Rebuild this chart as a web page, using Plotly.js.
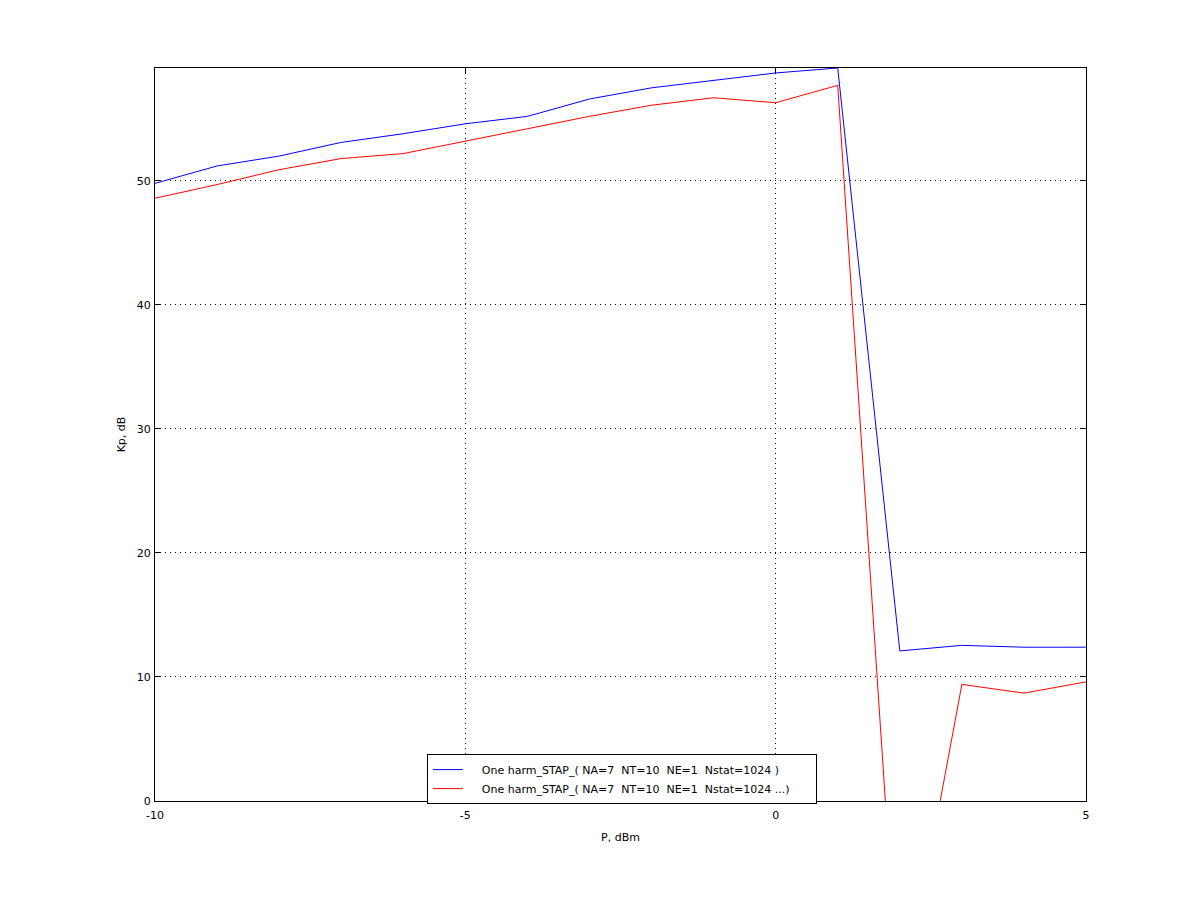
<!DOCTYPE html>
<html>
<head>
<meta charset="utf-8">
<script src="https://cdn.plot.ly/plotly-3.0.1.min.js"></script>
<style>html,body{margin:0;padding:0;background:#fff;}#chart{width:1200px;height:901px;}</style>
</head>
<body>
<div id="chart"></div>
<script>
const P_dBm = [-10, -9, -8, -7, -6, -5, -4, -3, -2, -1, 0, 1, 2, 3, 4, 5];
const kpBlue = [49.8, 51.2, 52.0, 53.1, 53.8, 54.6, 55.2, 56.6, 57.5, 58.1, 58.7, 59.1, 12.1, 12.55, 12.4, 12.4];
const kpRed  = [48.6, 49.7, 50.9, 51.8, 52.2, 53.2, 54.2, 55.2, 56.1, 56.7, 56.3, 57.7, -17.5, 9.4, 8.7, 9.6];
const seriesNames = [
  "One harm_STAP_(\u00a0NA=7\u00a0\u00a0NT=10\u00a0\u00a0NE=1\u00a0\u00a0Nstat=1024\u00a0)",
  "One harm_STAP_(\u00a0NA=7\u00a0\u00a0NT=10\u00a0\u00a0NE=1\u00a0\u00a0Nstat=1024\u00a0...)"
];
const xTicks = [-10, -5, 0, 5];
const yTicks = [0, 10, 20, 30, 40, 50];

const font = {family: "DejaVu Sans, sans-serif", size: 11, color: "#000"};
const leadPad = "\u00a0".repeat(4);
const trailPad = "\u00a0".repeat(6);

const traces = [
  {x: P_dBm, y: kpBlue, type: "scatter", mode: "lines", name: leadPad + seriesNames[0] + trailPad,
   line: {color: "#0000ff", width: 1}},
  {x: P_dBm, y: kpRed, type: "scatter", mode: "lines", name: leadPad + seriesNames[1] + trailPad,
   line: {color: "#ff0000", width: 1}}
];

const axisCommon = {
  showline: true, linecolor: "#000", linewidth: 1, mirror: "ticks",
  ticks: "inside", ticklen: 5, tickwidth: 1, tickcolor: "#000",
  showgrid: true, gridcolor: "#000", gridwidth: 1, griddash: "1px,4px",
  zeroline: false, tickfont: font
};

const layout = {
  width: 1200, height: 901,
  paper_bgcolor: "#fff", plot_bgcolor: "#fff",
  margin: {l: 155, r: 114, t: 68, b: 100},
  showlegend: true,
  font: font,
  xaxis: Object.assign({}, axisCommon, {
    range: [-10, 5], tickvals: xTicks, ticktext: xTicks.map(String),
    ticklabelstandoff: 4,
    title: {text: "P, dBm", font: font, standoff: 12}
  }),
  yaxis: Object.assign({}, axisCommon, {
    range: [0, 59.1], tickvals: yTicks, ticktext: yTicks.map(String),
    ticklabelstandoff: 1,
    title: {text: "Kp, dB", font: font, standoff: 8}
  }),
  legend: {
    x: 0.292, y: 0.064, xanchor: "left", yanchor: "top",
    bgcolor: "#fff", bordercolor: "#000", borderwidth: 1,
    font: font, tracegroupgap: 0
  }
};

Plotly.newPlot("chart", traces, layout, {staticPlot: true, displayModeBar: false});
</script>
</body>
</html>
